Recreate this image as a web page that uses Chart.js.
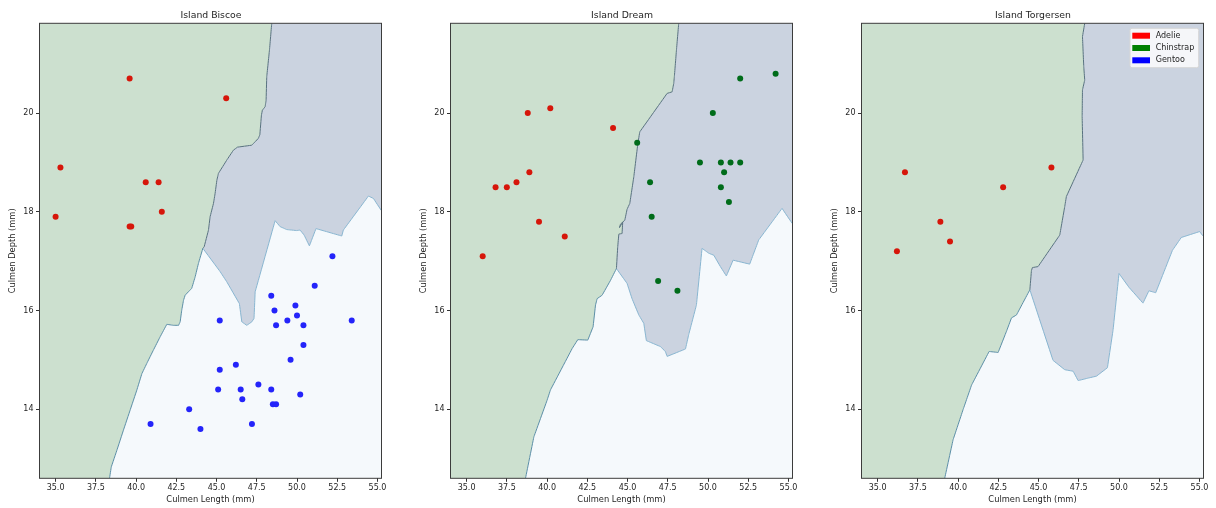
<!DOCTYPE html>
<html>
<head>
<meta charset="utf-8">
<script src="https://cdn.jsdelivr.net/npm/chart.js@4.4.1/dist/chart.umd.min.js"></script>
<style>
  body { margin: 0; background: #fff; }
  #wrap { position: relative; width: 1216px; height: 508px; }
  #wrap canvas { position: absolute; top: 0; }
</style>
</head>
<body>
<div id="wrap">
  <canvas id="biscoe" width="422" height="508" style="left:0px"></canvas>
  <canvas id="dream" width="422" height="508" style="left:411px"></canvas>
  <canvas id="torgersen" width="422" height="508" style="left:822px"></canvas>
</div>
<script>
/* axis limits + ticks */
const xMin = 34.0, xMax = 55.25;
const yMin = 12.6, yMax = 21.82;
const xTicks = [35, 37.5, 40, 42.5, 45, 47.5, 50, 52.5, 55];
const yTicks = [14, 16, 18, 20];

const species = ['Adelie', 'Chinstrap', 'Gentoo'];
const legendColors = ['#ff0000', '#008000', '#0000ff'];
const pointColors = ['rgb(214,22,10)', 'rgb(0,108,26)', 'rgb(36,36,250)'];

/* region colours */
const greenRegion = '#cce0cf';
const grayRegion = '#cbd3e0';
const lightRegion = '#f5f9fc';

/* Island Biscoe */
const biscoeAdelie = [[39.6,20.7],[45.6,20.3],[35.3,18.9],[40.6,18.6],[41.4,18.6],[35.0,17.9],[41.6,18.0],[39.6,17.7],[39.7,17.7]];
const biscoeGentoo = [[52.2,17.1],[51.1,16.5],[48.4,16.3],[49.9,16.1],[48.6,16.0],[50.0,15.9],[45.2,15.8],[49.4,15.8],[48.7,15.7],[50.4,15.7],[53.4,15.8],[50.4,15.3],[49.6,15.0],[46.2,14.9],[45.2,14.8],[47.6,14.5],[45.1,14.4],[46.5,14.4],[48.4,14.4],[50.2,14.3],[46.6,14.2],[48.5,14.1],[48.7,14.1],[43.3,14.0],[40.9,13.7],[47.2,13.7],[44.0,13.6]];
const biscoeGreenUpper = [[48.43,21.82],[48.29,21.28],[48.12,20.74],[48.08,20.26],[48.02,20.13],[47.85,20.06],[47.79,19.96],[47.69,19.56],[47.6,19.49],[47.4,19.42],[47.19,19.35],[46.3,19.31],[46.05,19.25],[45.64,19.05],[45.12,18.78],[45.02,18.64],[44.91,18.37],[44.81,18.17],[44.6,17.9],[44.5,17.63],[44.23,17.29],[44.15,17.26]];
const biscoeGreenLower = [[43.88,16.96],[43.67,16.68],[43.46,16.45],[43.05,16.31],[42.95,16.21],[42.84,16.01],[42.74,15.77],[42.64,15.7],[42.32,15.7],[41.91,15.72],[41.5,15.47],[41.08,15.2],[40.67,14.93],[40.36,14.72],[40.05,14.39],[39.63,13.98],[39.22,13.58],[38.81,13.17],[38.46,12.83],[38.35,12.6]];
const biscoeGrayLower = [[44.15,17.26],[45.22,16.79],[45.64,16.58],[46.42,16.14],[46.57,15.77],[46.88,15.7],[47.19,15.77],[47.33,15.84],[47.4,16.38],[48.64,17.82],[48.95,17.7],[49.36,17.64],[49.98,17.62],[50.19,17.63],[50.44,17.53],[50.77,17.31],[51.18,17.66],[52.78,17.51],[52.88,17.63],[54.44,18.32],[54.75,18.27],[55.26,18.02]];

/* Island Dream */
const dreamAdelie = [[38.8,20.0],[40.2,20.1],[44.1,19.7],[38.9,18.8],[38.1,18.6],[37.5,18.5],[36.8,18.5],[39.5,17.8],[41.1,17.5],[36.0,17.1]];
const dreamChinstrap = [[54.2,20.8],[52.0,20.7],[50.3,20.0],[45.6,19.4],[49.5,19.0],[50.8,19.0],[51.4,19.0],[52.0,19.0],[51.0,18.8],[46.4,18.6],[50.8,18.5],[51.3,18.2],[46.5,17.9],[46.9,16.6],[48.1,16.4]];
const dreamGreenUpper = [[48.18,21.82],[48.04,21.28],[47.91,20.74],[47.87,20.6],[47.77,20.43],[47.46,20.4],[45.76,19.62],[45.64,19.38],[45.39,18.71],[45.14,18.17],[44.97,18.05],[44.83,17.83],[44.56,17.75],[44.5,17.68],[44.7,17.79],[44.66,17.56],[44.46,17.55],[44.39,17.29],[44.31,16.85]];
const dreamGreenLower = [[43.94,16.61],[43.42,16.31],[43.11,16.24],[43.01,16.11],[42.86,15.67],[42.53,15.4],[41.91,15.41],[41.56,15.23],[40.21,14.39],[40.0,14.18],[39.18,13.44],[38.66,12.6]];
const dreamGrayLower = [[44.31,16.85],[44.97,16.55],[45.28,16.24],[45.7,15.91],[46.01,15.74],[46.17,15.39],[47.04,15.27],[47.35,15.17],[47.46,15.07],[48.6,15.22],[48.8,15.51],[49.28,16.11],[49.63,17.26],[50.05,17.16],[50.36,17.12],[50.77,16.89],[51.14,16.7],[51.56,17.02],[52.59,16.94],[53.15,17.43],[54.6,18.07],[55.28,17.75]];

/* Island Torgersen */
const torgersenAdelie = [[36.7,18.8],[45.8,18.9],[42.8,18.5],[38.9,17.8],[39.5,17.4],[36.2,17.2]];
const torgersenGreenUpper = [[47.87,21.82],[47.73,21.55],[47.81,20.94],[47.87,20.67],[47.73,20.47],[47.71,19.93],[47.77,19.05],[46.73,18.31],[46.63,18.11],[46.32,17.53],[44.97,16.89],[44.62,16.87],[44.56,16.81],[44.46,16.42]];
const torgersenGreenLower = [[43.63,15.91],[43.32,15.85],[43.01,15.58],[42.49,15.15],[41.93,15.17],[40.84,14.49],[40.31,13.99],[39.69,13.38],[39.17,12.6]];
const torgersenGrayLower = [[44.46,16.42],[45.9,14.99],[46.63,14.8],[47.15,14.77],[47.46,14.58],[48.08,14.63],[48.6,14.67],[49.28,14.84],[49.63,15.6],[50.0,16.75],[50.62,16.47],[51.49,16.15],[51.86,16.4],[52.28,16.36],[53.32,17.22],[53.87,17.48],[55.01,17.6],[55.22,17.51]];

Chart.defaults.font.family = "'DejaVu Sans', sans-serif";
Chart.defaults.color = '#1e1e1e';

function pts(arr) {
	return arr.map(p => ({x: p[0], y: p[1]}));
}

// frame round the plot area
const framePlugin = {
	id: 'frame',
	afterDraw(chart) {
		const a = chart.chartArea;
		const ctx = chart.ctx;
		ctx.save();
		ctx.strokeStyle = '#3c3c3c';
		ctx.lineWidth = 1;
		ctx.strokeRect(a.left, a.top, a.right - a.left, a.bottom - a.top);
		ctx.restore();
	}
};

// matplotlib style legend (patches), only used on the last panel
const speciesLegend = {
	id: 'speciesLegend',
	afterDraw(chart, args, opts) {
		if (!opts.display) return;
		const a = chart.chartArea;
		const ctx = chart.ctx;
		const w = 68.7, h = 39.4;
		const bx = a.right - 4.8 - w, by = a.top + 5;
		ctx.save();
		ctx.fillStyle = 'rgba(255,255,255,0.8)';
		ctx.strokeStyle = '#d6d6d6';
		ctx.lineWidth = 1;
		ctx.beginPath();
		ctx.roundRect(bx, by, w, h, 2);
		ctx.fill();
		ctx.stroke();
		ctx.font = "8px 'DejaVu Sans', sans-serif";
		ctx.textBaseline = 'middle';
		for (let i = 0; i < species.length; i++) {
			const cy = by + 7.4 + i * 12.3;
			ctx.fillStyle = legendColors[i];
			ctx.fillRect(bx + 2.3, cy - 3, 17.7, 6);
			ctx.fillStyle = '#1e1e1e';
			ctx.fillText(species[i], bx + 25.7, cy);
		}
		ctx.restore();
	}
};

function makePanel(id, title, greenUpper, greenLower, grayLower, groups, legend) {
	const lightPoly = [[xMin,yMin],[xMax,yMin],[xMax,yMax],[xMin,yMax]];
	const grayPoly = greenUpper.concat(grayLower, [[xMax, yMax]]);
	const greenPoly = [[xMin, yMax]].concat(greenUpper, greenLower, [[xMin, yMin]]);

	// tiny tension keeps chart.js off its x-monotone fast path (polygons go up and down)
	const poly = (arr, color, order) => ({
		type: 'line', data: pts(arr), fill: 'shape', backgroundColor: color,
		borderWidth: 0, borderColor: 'transparent', pointRadius: 0, tension: 1e-6,
		order: order
	});
	const edge = (arr, color) => ({
		type: 'line', data: pts(arr), fill: false, borderColor: color,
		borderWidth: 1, pointRadius: 0, tension: 1e-6, order: 5
	});

	const datasets = [
		poly(lightPoly, lightRegion, 10),
		poly(grayPoly, grayRegion, 9),
		poly(greenPoly, greenRegion, 8),
		edge(greenUpper, '#58717f'),
		edge([greenUpper[greenUpper.length - 1]].concat(greenLower), '#5b8ea6'),
		edge(grayLower, '#88b5d0')
	];
	groups.forEach(g => {
		datasets.push({
			type: 'scatter', label: species[g.s], data: pts(g.data),
			backgroundColor: pointColors[g.s], borderWidth: 0,
			pointRadius: 3, order: 1
		});
	});

	new Chart(document.getElementById(id), {
		type: 'scatter',
		data: {datasets: datasets},
		options: {
			responsive: false,
			animation: false,
			events: [],
			layout: {padding: 0},
			plugins: {
				legend: {display: false},
				tooltip: {enabled: false},
				title: {
					display: true, text: title,
					font: {size: 9.3, weight: 'normal'},
					padding: {top: 10, bottom: 2.14}
				},
				speciesLegend: {display: legend}
			},
			scales: {
				x: {
					type: 'linear', min: xMin, max: xMax,
					afterBuildTicks: s => { s.ticks = xTicks.map(v => ({value: v})); },
					afterFit: s => { s.height = 29.7; },
					ticks: {font: {size: 8}, padding: 1, maxRotation: 0, callback: v => v.toFixed(1)},
					grid: {drawOnChartArea: false, tickLength: 3.5, color: '#333'},
					border: {display: false},
					title: {display: true, text: 'Culmen Length (mm)', font: {size: 8.3}, padding: {top: 0, bottom: 3}}
				},
				y: {
					type: 'linear', min: yMin, max: yMax,
					afterBuildTicks: s => { s.ticks = yTicks.map(v => ({value: v})); },
					afterFit: s => { s.width = 39.5; },
					ticks: {font: {size: 8}, padding: 2.5, callback: v => String(v)},
					grid: {drawOnChartArea: false, tickLength: 3.5, color: '#333'},
					border: {display: false},
					title: {display: true, text: 'Culmen Depth (mm)', font: {size: 8.3}, padding: {top: 8.3, bottom: 0}}
				},
				yRight: {
					type: 'linear', position: 'right', min: 0, max: 1,
					afterFit: s => { s.width = 40.5; },
					ticks: {display: false},
					grid: {display: false},
					border: {display: false}
				}
			}
		},
		plugins: [framePlugin, speciesLegend]
	});
}

makePanel('biscoe', 'Island Biscoe', biscoeGreenUpper, biscoeGreenLower, biscoeGrayLower,
	[{s: 0, data: biscoeAdelie}, {s: 2, data: biscoeGentoo}], false);
makePanel('dream', 'Island Dream', dreamGreenUpper, dreamGreenLower, dreamGrayLower,
	[{s: 0, data: dreamAdelie}, {s: 1, data: dreamChinstrap}], false);
makePanel('torgersen', 'Island Torgersen', torgersenGreenUpper, torgersenGreenLower, torgersenGrayLower,
	[{s: 0, data: torgersenAdelie}], true);
</script>
</body>
</html>
